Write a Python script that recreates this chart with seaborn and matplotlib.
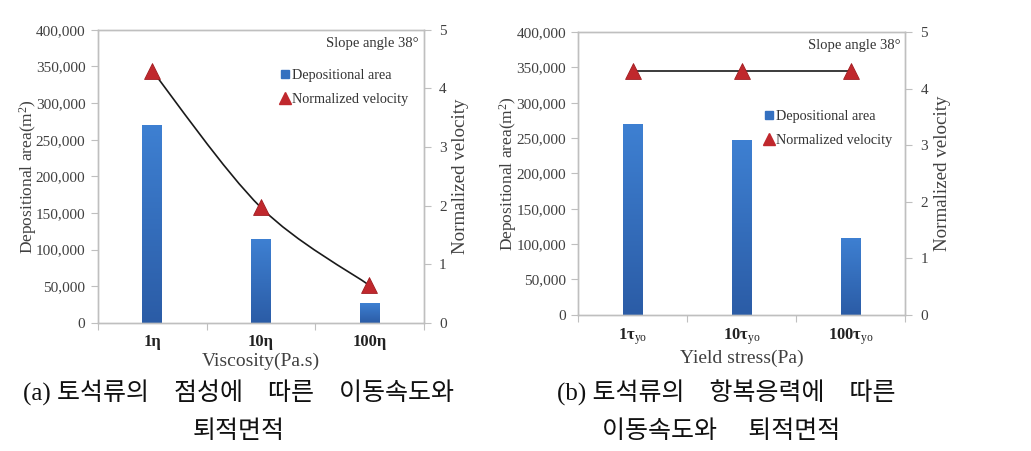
import numpy as np
import pandas as pd
import matplotlib
matplotlib.use("Agg")
import matplotlib.pyplot as plt
import seaborn as sns
from matplotlib.path import Path
from matplotlib.patches import PathPatch
from matplotlib.lines import Line2D
from matplotlib.ticker import FuncFormatter, MultipleLocator

# ---- data ----
visc_labels = ["1η", "10η", "100η"]
visc_area = [270000, 114000, 27000]
visc_velocity = [4.30, 1.97, 0.64]

yield_labels = ["1τ$_{\\mathrm{yo}}$", "10τ$_{\\mathrm{yo}}$", "100τ$_{\\mathrm{yo}}$"]
yield_area = [270000, 247000, 109000]
yield_velocity = [4.31, 4.31, 4.31]

caption_a = ["(a) 토석류의    점성에    따른    이동속도와", "퇴적면적"]
caption_b = ["(b) 토석류의    항복응력에    따른", "이동속도와     퇴적면적"]

sns.set_style("white")
plt.rcParams["font.family"] = ["Liberation Serif", "DejaVu Serif"]
plt.rcParams["mathtext.fontset"] = "custom"
plt.rcParams["mathtext.rm"] = "Liberation Serif"
plt.rcParams["mathtext.it"] = "Liberation Serif:italic"
plt.rcParams["mathtext.bf"] = "Liberation Serif:bold"

GRAY = "#bfbfbf"
TXT = "#404040"
BAR_TOP = np.array([0x3e, 0x80, 0xd2]) / 255
BAR_BOT = np.array([0x2b, 0x5c, 0xa6]) / 255
RED = "#c0282d"

fig = plt.figure(figsize=(10.31, 4.51), dpi=100)


def smooth_path(xs, ys):
    xs = np.asarray(xs, float)
    ys = np.asarray(ys, float)
    n = len(xs)
    verts = [(xs[0], ys[0])]
    codes = [Path.MOVETO]
    for i in range(n - 1):
        p0 = np.array([xs[max(i - 1, 0)], ys[max(i - 1, 0)]])
        p1 = np.array([xs[i], ys[i]])
        p2 = np.array([xs[i + 1], ys[i + 1]])
        p3 = np.array([xs[min(i + 2, n - 1)], ys[min(i + 2, n - 1)]])
        c1 = p1 + (p2 - p0) / 6.0
        c2 = p2 - (p3 - p1) / 6.0
        verts += [tuple(c1), tuple(c2), tuple(p2)]
        codes += [Path.CURVE4] * 3
    return Path(verts, codes)


def panel(rect, cats, area, vel, xlabel, legend_anchor, smooth):
    ax = fig.add_axes(rect)
    df = pd.DataFrame({"cat": cats, "area": area})
    sns.barplot(data=df, x="cat", y="area", ax=ax, color=BAR_TOP, width=0.18,
                saturation=1)
    # gradient fill for bars
    grad = np.linspace(0, 1, 256)[:, None]
    cols = BAR_TOP[None, :] * (1 - grad) + BAR_BOT[None, :] * grad
    img = cols[:, None, :]
    for p in list(ax.patches):
        x0, y0 = p.get_x(), p.get_y()
        w, h = p.get_width(), p.get_height()
        im = ax.imshow(img, extent=[x0, x0 + w, y0, y0 + h], aspect="auto",
                       origin="upper", zorder=2)
        im.set_clip_path(p)
        p.set_facecolor("none")
        p.set_edgecolor("none")
    ax.set_xlim(-0.5, 2.5)
    ax.set_ylim(0, 400000)
    ax.yaxis.set_major_locator(MultipleLocator(50000))
    ax.yaxis.set_major_formatter(FuncFormatter(lambda v, _: f"{int(v):,}"))
    ax.set_xlabel(xlabel, fontsize=14, color=TXT, labelpad=2)
    ax.set_ylabel("Depositional area(m$^2$)", fontsize=12.5, color=TXT,
                  labelpad=-2)
    ax.tick_params(axis="y", labelsize=11, colors=TXT, length=5, width=0.8,
                   color=GRAY, direction="out", left=True, pad=4)
    ax.set_xticks(range(len(cats)))
    ax.set_xticklabels(cats, fontsize=12, fontweight="bold", color="#222222")
    ax.tick_params(axis="x", length=0, pad=8)
    ax.set_xticks([0.5, 1.5, 2.5, -0.5], minor=True)
    ax.tick_params(axis="x", which="minor", length=5, color=GRAY, width=0.8,
                   bottom=True)
    for s in ax.spines.values():
        s.set_color(GRAY)
        s.set_linewidth(1.0)

    ax2 = ax.twinx()
    ax2.set_ylim(0, 5)
    ax2.yaxis.set_major_locator(MultipleLocator(1))
    ax2.tick_params(axis="y", labelsize=11, colors=TXT, length=5, width=0.8,
                    color=GRAY, direction="out", right=True, pad=6)
    ax2.set_ylabel("Normalized velocity", fontsize=13.7, color=TXT, labelpad=4)
    for s in ax2.spines.values():
        s.set_color(GRAY)
        s.set_linewidth(1.0)
    xs = np.arange(len(vel))
    if smooth:
        ax2.add_patch(PathPatch(smooth_path(xs, vel), facecolor="none",
                                edgecolor="#1a1a1a", lw=1.2, zorder=3))
    else:
        sns.lineplot(x=xs, y=vel, ax=ax2, color="#1a1a1a", lw=1.2, zorder=3)
    sns.scatterplot(x=xs, y=vel, ax=ax2, marker="^", s=130, color=RED,
                    edgecolor="#a01c20", linewidth=0.6, zorder=4)
    ax2.text(0.985, 0.975, "Slope angle 38°", transform=ax2.transAxes,
             ha="right", va="top", fontsize=10.5, color="#333333")
    handles = [
        Line2D([], [], ls="none", marker="s", markersize=6,
               markerfacecolor="#3470c0", markeredgecolor="#3470c0"),
        Line2D([], [], ls="none", marker="^", markersize=8,
               markerfacecolor=RED, markeredgecolor=RED),
    ]
    ax2.legend(handles, ["Depositional area", "Normalized velocity"],
               loc="upper left", bbox_to_anchor=legend_anchor, frameon=False,
               fontsize=10.3, handletextpad=0.0, handlelength=1.0,
               labelspacing=0.75, borderaxespad=0, labelcolor="#333333")
    return ax, ax2


panel([0.095, 0.284, 0.316, 0.650], visc_labels, visc_area, visc_velocity,
      "Viscosity(Pa.s)", (0.534, 0.885), True)
panel([0.561, 0.302, 0.317, 0.627], yield_labels, yield_area, yield_velocity,
      "Yield stress(Pa)", (0.544, 0.745), False)

cfont = ["Liberation Serif", "Noto Sans CJK KR", "DejaVu Sans"]
ckw = dict(ha="left", va="center", fontsize=18, family=cfont, color="#111111")
fig.text(23 / 1031, 1 - 393 / 451, caption_a[0], **ckw)
fig.text(193 / 1031, 1 - 432 / 451, caption_a[1], **ckw)
fig.text(557 / 1031, 1 - 393 / 451, caption_b[0], **ckw)
fig.text(602 / 1031, 1 - 432 / 451, caption_b[1], **ckw)

fig.savefig("out.png", dpi=100)
